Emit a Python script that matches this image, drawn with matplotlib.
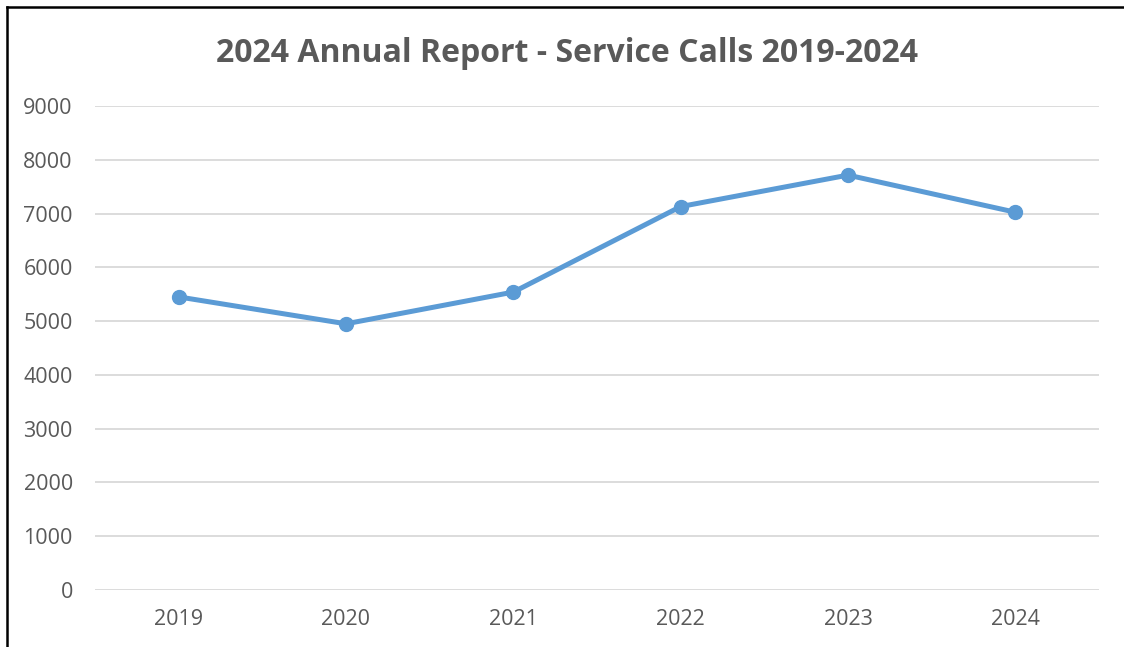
import matplotlib
matplotlib.use("Agg")
import matplotlib.pyplot as plt
from matplotlib.lines import Line2D

years = ["2019", "2020", "2021", "2022", "2023", "2024"]
calls = [5450, 4950, 5540, 7130, 7715, 7025]
yticks = [0, 1000, 2000, 3000, 4000, 5000, 6000, 7000, 8000, 9000]

plt.rcParams['font.family'] = ['Open Sans', 'DejaVu Sans']
text_color = '#595959'

fig = plt.figure(figsize=(11.24, 6.47), dpi=100)
ax = fig.add_axes([95 / 1124, 1 - 590 / 647, 1004 / 1124, 484 / 647])

x = range(len(years))
ax.plot(x, calls, color='#5B9BD5', linewidth=3.6, marker='o', markersize=10,
        solid_capstyle='round', solid_joinstyle='round', zorder=3)

ax.set_xlim(-0.5, len(years) - 0.5)
ax.set_ylim(0, 9000)
ax.set_yticks(yticks)
ax.set_xticks(list(x))
ax.set_xticklabels(years)
ax.grid(axis='y', color='#D9D9D9', linewidth=1.3)
ax.set_axisbelow(True)
for s in ax.spines.values():
    s.set_visible(False)
ax.tick_params(length=0, labelsize=15.5, colors=text_color)
ax.tick_params(axis='y', pad=16)
ax.tick_params(axis='x', pad=14)

fig.text(567 / 1124, 1 - 53 / 647, "2024 Annual Report - Service Calls 2019-2024",
         ha='center', va='center', fontsize=23, fontweight='bold', color=text_color)

# outer chart border (left and top)
fig.add_artist(Line2D([7 / 1124, 7 / 1124], [0, 1 - 7 / 647], color='black', linewidth=1.8,
                      transform=fig.transFigure))
fig.add_artist(Line2D([7 / 1124, 1], [1 - 7 / 647, 1 - 7 / 647], color='black', linewidth=1.8,
                      transform=fig.transFigure))

fig.savefig("out.png", dpi=100)
